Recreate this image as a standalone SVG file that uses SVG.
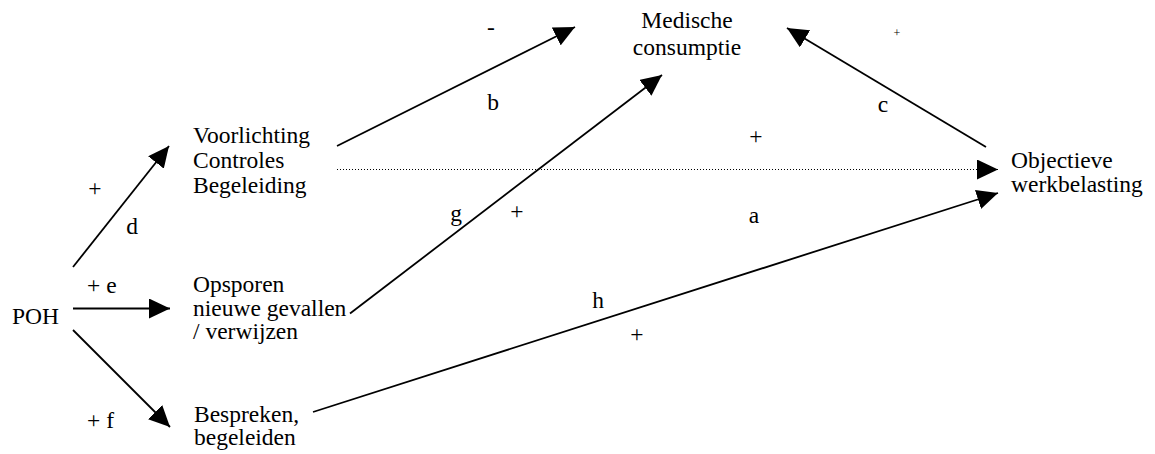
<svg xmlns="http://www.w3.org/2000/svg" width="1155" height="454" viewBox="0 0 1155 454" font-family="'Liberation Serif', 'Times New Roman', serif" font-size="23.5">
<style>
.c{text-anchor:middle}
.ln{stroke:#000;stroke-width:1.8;fill:none}
.dot{stroke:#000;stroke-width:1;stroke-dasharray:1 2;fill:none}
.sm{font-size:12px}
</style>
<defs>
<marker id="ah" markerUnits="userSpaceOnUse" markerWidth="21" markerHeight="20" refX="21" refY="10" orient="auto" viewBox="0 0 21 20">
<path d="M0,0 L21,10 L0,20 z" fill="#000"/>
</marker>
</defs>
<rect width="1155" height="454" fill="#fff"/>
<g id="connectors">
<line class="ln" x1="73" y1="267" x2="169" y2="146" marker-end="url(#ah)"/>
<line class="ln" x1="73" y1="308.5" x2="170" y2="308.5" marker-end="url(#ah)"/>
<line class="ln" x1="73" y1="330" x2="170" y2="427" marker-end="url(#ah)"/>
<line class="ln" x1="337" y1="146" x2="575" y2="27" marker-end="url(#ah)"/>
<line class="ln" x1="350" y1="313.5" x2="662" y2="75" marker-end="url(#ah)"/>
<line class="ln" x1="986" y1="147" x2="787" y2="28" marker-end="url(#ah)"/>
<line class="dot" x1="337" y1="169.5" x2="998" y2="169.5" marker-end="url(#ah)"/>
<line class="ln" x1="313" y1="412" x2="998" y2="193" marker-end="url(#ah)"/>
</g>
<g id="labels" fill="#000">
<text x="95" y="196" class="c">+</text>
<text x="132" y="234" class="c">d</text>
<text x="87" y="293">+ e</text>
<text x="87" y="428">+ f</text>
<text x="491" y="35" class="c">-</text>
<text x="493" y="110" class="c">b</text>
<text x="456" y="221" class="c">g</text>
<text x="517" y="219" class="c">+</text>
<text x="883" y="111.5" class="c">c</text>
<text x="897" y="37" class="c sm">+</text>
<text x="756" y="144" class="c">+</text>
<text x="754" y="223" class="c">a</text>
<text x="598" y="308" class="c">h</text>
<text x="637" y="342" class="c">+</text>
</g>
<g id="node-poh" fill="#000"><text x="12" y="324">POH</text></g>
<g id="node-voorlichting" fill="#000">
<text x="193" y="143">Voorlichting</text>
<text x="193" y="168">Controles</text>
<text x="193" y="193">Begeleiding</text>
</g>
<g id="node-opsporen" fill="#000">
<text x="193" y="292">Opsporen</text>
<text x="193" y="316">nieuwe gevallen</text>
<text x="193" y="339">/ verwijzen</text>
</g>
<g id="node-bespreken" fill="#000">
<text x="194" y="422">Bespreken,</text>
<text x="194" y="445">begeleiden</text>
</g>
<g id="node-medische" fill="#000">
<text x="687" y="28" class="c">Medische</text>
<text x="687" y="55" class="c">consumptie</text>
</g>
<g id="node-objectieve" fill="#000">
<text x="1011" y="168">Objectieve</text>
<text x="1011" y="192">werkbelasting</text>
</g>
</svg>
